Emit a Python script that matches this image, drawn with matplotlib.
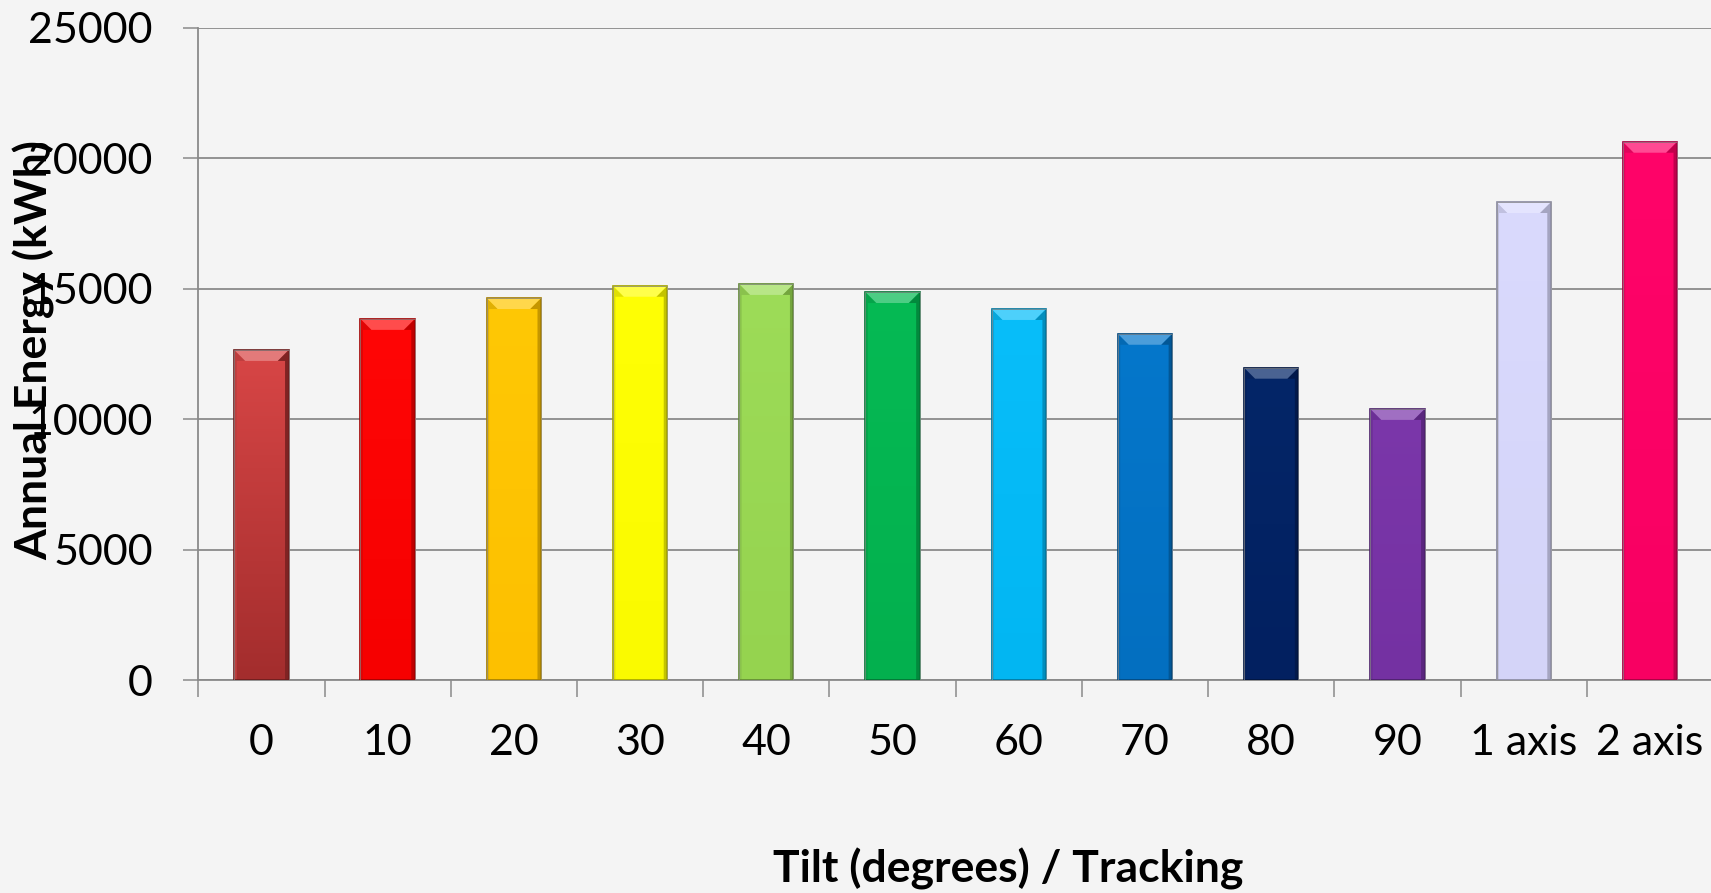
import matplotlib
matplotlib.use("Agg")
import matplotlib.pyplot as plt
import numpy as np
from matplotlib.colors import to_rgb, LinearSegmentedColormap
from matplotlib.patches import Polygon, Rectangle

# Annual energy yield by panel tilt / tracking mode
categories = ["0", "10", "20", "30", "40", "50", "60", "70", "80", "90", "1 axis", "2 axis"]
energy_kwh = [12650, 13840, 14640, 15110, 15180, 14870, 14220, 13270, 11970, 10390, 18320, 20630]
y_ticks = [0, 5000, 10000, 15000, 20000, 25000]

# Fill colours (top, bottom of each bar's gradient)
colors_top = ["#D84646", "#FF0606", "#FFC805", "#FFFF05", "#9DDC58", "#06BA54", "#08BEFA",
              "#0577CB", "#042668", "#7B37AA", "#DADAFD", "#FF0469"]
colors_bottom = ["#A32D2D", "#F60000", "#FDC000", "#FAFA00", "#95D34F", "#03B04E", "#02B6F2",
                 "#036FC0", "#022060", "#7431A2", "#D4D4F8", "#F80062"]

plt.rcParams["font.family"] = ["Lato", "DejaVu Sans"]

W, H, DPI = 1711, 893, 100
BG = "#F4F4F4"
GRID = "#8A8A8A"

fig = plt.figure(figsize=(W / DPI, H / DPI), dpi=DPI, facecolor=BG)
ax = fig.add_axes([198.3 / W, (H - 680) / H, (1713 - 198.3) / W, (680 - 27.7) / H])
ax.set_facecolor(BG)

x = np.arange(len(categories))
bar_w = 0.43
bars = ax.bar(x, energy_kwh, width=bar_w, color=colors_top, zorder=3, linewidth=0)

ax.set_xlim(-0.5, len(categories) - 0.5)
ax.set_ylim(0, 25000)


def mix(c, other, t):
    a = np.array(to_rgb(c))
    b = np.array(to_rgb(other))
    return tuple(a * (1 - t) + b * t)


# pixel -> data conversion for the bevel decoration
fig.canvas.draw()
p0 = ax.transData.transform((0, 0))
p1 = ax.transData.transform((1, 1000))
dx_px = p1[0] - p0[0]
dy_px = (p1[1] - p0[1]) / 1000.0
bevel_x = 11 / dx_px
bevel_y = 11 / dy_px
side_x = 3.5 / dx_px

for patch, ctop, cbot in zip(bars.patches, colors_top, colors_bottom):
    x0 = patch.get_x()
    w = patch.get_width()
    h = patch.get_height()
    x1 = x0 + w
    # vertical gradient body
    cmap = LinearSegmentedColormap.from_list("g", [cbot, ctop])
    grad = np.linspace(0, 1, 256).reshape(-1, 1)
    im = ax.imshow(grad, extent=[x0, x1, 0, h], origin="lower", aspect="auto",
                   cmap=cmap, zorder=3.1, interpolation="bilinear")
    im.set_clip_path(patch)
    # top bevel (lighter trapezoid)
    top = Polygon([(x0, h), (x1, h), (x1 - bevel_x, h - bevel_y), (x0 + bevel_x, h - bevel_y)],
                  closed=True, facecolor=mix(ctop, "white", 0.28), edgecolor="none", zorder=3.3)
    ax.add_patch(top)
    # side shading
    ax.add_patch(Polygon([(x1 - side_x, 0), (x1, 0), (x1, h), (x1 - bevel_x, h - bevel_y),
                          (x1 - side_x, h - bevel_y)], closed=True,
                         facecolor=mix(cbot, "black", 0.22), edgecolor="none", zorder=3.2))
    ax.add_patch(Polygon([(x0, 0), (x0 + side_x * 0.7, 0), (x0 + side_x * 0.7, h - bevel_y),
                          (x0 + bevel_x, h - bevel_y), (x0, h)], closed=True,
                         facecolor=mix(ctop, "black", 0.12), edgecolor="none", zorder=3.2))
    # outline
    ax.add_patch(Rectangle((x0, 0), w, h, facecolor="none",
                           edgecolor=mix(cbot, "black", 0.35), linewidth=1.2, zorder=3.4))
    ax.add_patch(Rectangle((x0, 0), w, h, facecolor="none",
                           edgecolor="#9A9A9A", linewidth=0.6, zorder=3.5, alpha=0.7))

ax.set_xlim(-0.5, len(categories) - 0.5)
ax.set_ylim(0, 25000)

# axes styling
for s in ["top", "right"]:
    ax.spines[s].set_visible(False)
for s in ["left", "bottom"]:
    ax.spines[s].set_color(GRID)
    ax.spines[s].set_linewidth(1.3)
    ax.spines[s].set_zorder(2.5)

ax.set_axisbelow(True)
ax.yaxis.grid(True, color=GRID, linewidth=1.3)
ax.set_yticks(y_ticks)
ax.set_yticklabels([str(v) for v in y_ticks])
ax.tick_params(axis="y", direction="out", length=10.8, width=1.1, color=GRID,
               labelsize=31, pad=22, labelcolor="black")

# category boundaries carry the tick marks, labels sit at bar centres
ax.set_xticks(np.arange(-0.5, len(categories), 1))
ax.set_xticklabels([])
ax.set_xticks(x, minor=True)
ax.set_xticklabels(categories, minor=True)
ax.tick_params(axis="x", which="major", direction="out", length=12, width=1.1, color=GRID)
ax.tick_params(axis="x", which="minor", length=0, labelsize=31, pad=32, labelcolor="black")

fig.text(34 / W, 1 - 350 / H, "Annual Energy (kWh)", rotation=90, ha="center", va="center",
         fontsize=32, fontweight="bold", color="black")
fig.text(1008 / W, (H - 883) / H, "Tilt (degrees) / Tracking", ha="center", va="baseline",
         fontsize=32, fontweight="bold", color="black")

fig.savefig("out.png", dpi=DPI, facecolor=BG)
